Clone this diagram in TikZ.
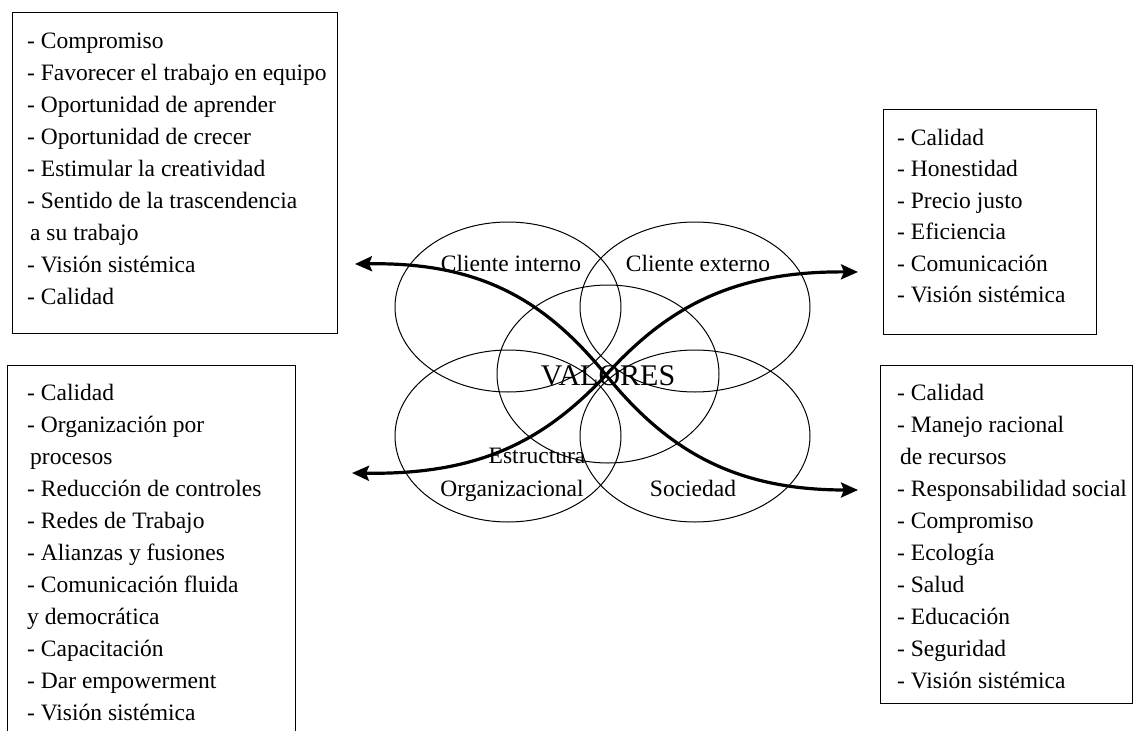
\documentclass[tikz,border=0pt]{standalone}
\usepackage{fontspec}
\setmainfont{Liberation Serif}
\usetikzlibrary{arrows.meta}
\begin{document}
\begin{tikzpicture}[x=1pt,y=-1pt,
  box/.style={draw, line width=1.4pt, anchor=north west, inner sep=0pt},
  ell/.style={draw, line width=1pt},
  item/.style={anchor=base west, inner sep=0pt, font=\fontsize{23.5}{28}\selectfont},
  lbl/.style={anchor=base, inner sep=0pt, font=\fontsize{23.5}{28}\selectfont},
  biglbl/.style={anchor=base, inner sep=0pt, font=\fontsize{30}{34}\selectfont},
  flow/.style={line width=3.2pt, {Stealth[length=17pt,width=15pt,inset=3pt]}-{Stealth[length=17pt,width=15pt,inset=3pt]}}
]
\useasboundingbox (0,0) rectangle (1144,731);
\clip (0,0) rectangle (1144,731);

% boxes
\node[box, minimum width=325pt, minimum height=321pt] (tlbox) at (12,12) {};
\node[box, minimum width=213pt, minimum height=225pt] (trbox) at (883,109) {};
\node[box, minimum width=288pt, minimum height=390pt] (blbox) at (7,365) {};
\node[box, minimum width=252pt, minimum height=338pt] (brbox) at (880,365) {};

% box texts
\foreach \t [count=\i] in {- Compromiso, - Favorecer el trabajo en equipo, - Oportunidad de aprender, - Oportunidad de crecer, - Estimular la creatividad, - Sentido de la trascendencia, {\hspace{3pt}a su trabajo}, - Visión sistémica, - Calidad}
  \node[item] (tl\i) at (27,{48+32*(\i-1)}) {\t};

\foreach \t [count=\i] in {- Calidad, - Honestidad, - Precio justo, - Eficiencia, - Comunicación, - Visión sistémica}
  \node[item] (tr\i) at (897,{145+31.5*(\i-1)}) {\t};

\foreach \t [count=\i] in {- Calidad, - Organización por, {\hspace{3pt}procesos}, - Reducción de controles, - Redes de Trabajo, - Alianzas y fusiones, - Comunicación fluida, y democrática, - Capacitación, - Dar empowerment, - Visión sistémica}
  \node[item] (bl\i) at (27,{400+32*(\i-1)}) {\t};

\foreach \t [count=\i] in {- Calidad, - Manejo racional, {\hspace{3pt}de recursos}, - Responsabilidad social, - Compromiso, - Ecología, - Salud, - Educación, - Seguridad, - Visión sistémica}
  \node[item] (br\i) at (897,{400+32*(\i-1)}) {\t};

% ellipses
\draw[ell] (508,307) ellipse [x radius=113pt, y radius=85pt];
\draw[ell] (695,307) ellipse [x radius=115pt, y radius=85pt];
\draw[ell] (608,374) ellipse [x radius=111pt, y radius=89pt];
\draw[ell] (508,436) ellipse [x radius=113pt, y radius=86pt];
\draw[ell] (695,436) ellipse [x radius=115pt, y radius=86pt];

% ellipse labels
\node[lbl] (ci) at (511,271) {Cliente interno};
\node[lbl] (ce) at (698,271) {Cliente externo};
\node[biglbl] (val) at (608,385) {VALORES};
\node[lbl] (eo1) at (537,463) {Estructura};
\node[lbl] (eo2) at (512,496) {Organizacional};
\node[lbl] (soc) at (693,496) {Sociedad};

% arrows
\coordinate (atl) at (355,264);
\coordinate (abr) at (858,490);
\coordinate (abl) at (352,473);
\coordinate (atr) at (858,272);
\coordinate (ctr) at (606,375);
\draw[flow] (atl) .. controls (480,262) and (545,300) .. (ctr) .. controls (667,450) and (734,490) .. (abr);
\draw[flow] (abl) .. controls (479,475) and (544,441) .. (ctr) .. controls (666,309) and (731,271) .. (atr);
\end{tikzpicture}
\end{document}
